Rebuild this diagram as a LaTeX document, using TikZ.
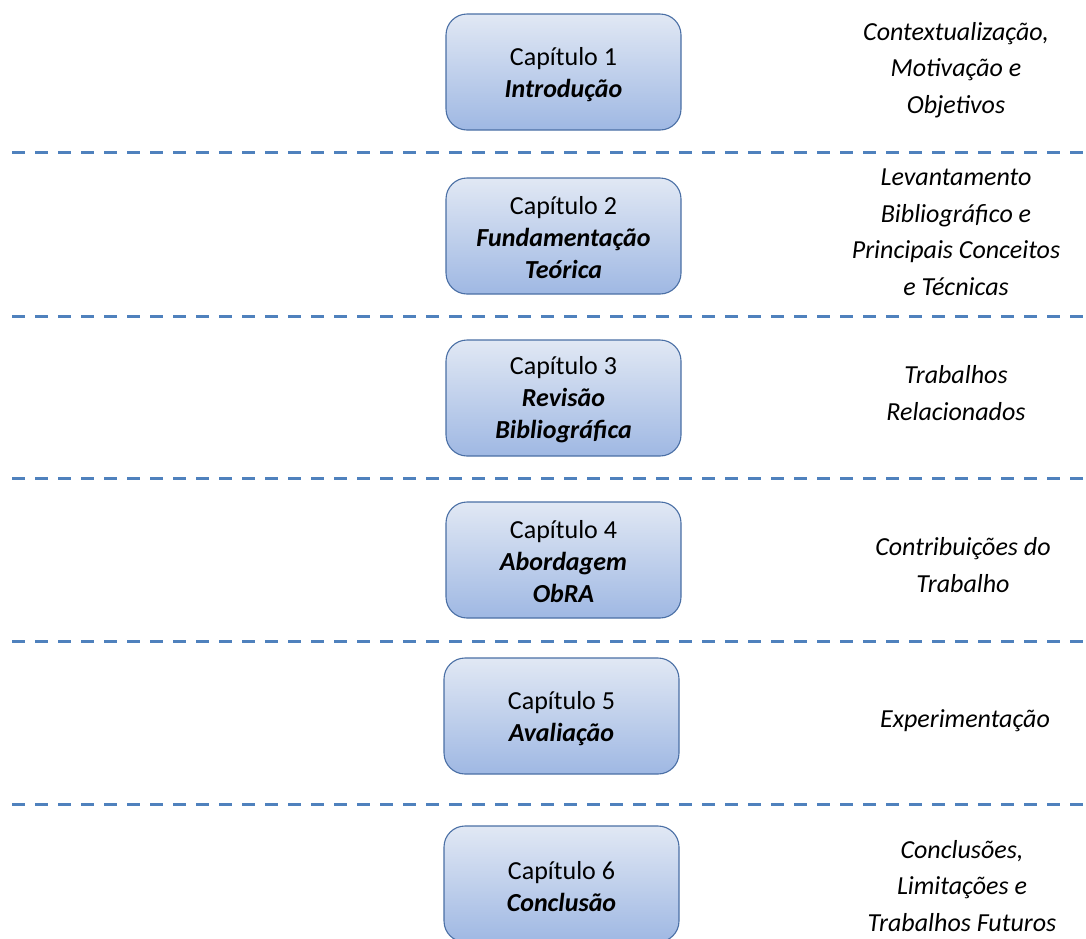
\documentclass[tikz,border=0pt]{standalone}
\usepackage{fontspec}
\setmainfont{Carlito}
\begin{document}
\begin{tikzpicture}[x=1pt,y=-1pt,
  chapbox/.style={draw=boxline, line width=1.1pt, rounded corners=21pt,
    top color=boxtop, bottom color=boxbottom, minimum width=235pt,
    minimum height=116pt, inner sep=0pt},
  chaptext/.style={align=center, inner sep=0pt, font=\fontsize{26}{32}\selectfont},
  note/.style={align=center, inner sep=0pt, font=\fontsize{26}{36.5}\selectfont\itshape},
  sep/.style={draw=sepblue, line width=3pt, dash pattern=on 13pt off 10pt}]
\definecolor{boxline}{HTML}{4A6FA5}
\definecolor{boxtop}{HTML}{E1E8F4}
\definecolor{boxbottom}{HTML}{9FB8E3}
\definecolor{sepblue}{HTML}{4F81BD}
\useasboundingbox (0,0) rectangle (1086,938);
\clip (0,0) rectangle (1086,938);

% chapter boxes
\node[chapbox] (c1) at (563.5,72) {};
\node[chapbox] (c2) at (563.5,236) {};
\node[chapbox] (c3) at (563.5,398) {};
\node[chapbox] (c4) at (563.5,560) {};
\node[chapbox] (c5) at (561.5,716) {};
\node[chapbox] (c6) at (561.5,884) {};

% chapter titles, set a little below the box centres
\node[chaptext] (t1) at ([yshift=-3pt]c1.center) {Capítulo 1\\\textbf{\textit{Introdução}}};
\node[chaptext] (t2) at ([yshift=-2pt]c2.center) {Capítulo 2\\\textbf{\textit{Fundamentação}}\\\textbf{\textit{Teórica}}};
\node[chaptext] (t3) at ([yshift=-2pt]c3.center) {Capítulo 3\\\textbf{\textit{Revisão}}\\\textbf{\textit{Bibliográfica}}};
\node[chaptext] (t4) at ([yshift=-2pt]c4.center) {Capítulo 4\\\textbf{\textit{Abordagem}}\\\textbf{\textit{ObRA}}};
\node[chaptext] (t5) at ([yshift=-3pt]c5.center) {Capítulo 5\\\textbf{\textit{Avaliação}}};
\node[chaptext] (t6) at ([yshift=-3pt]c6.center) {Capítulo 6\\\textbf{\textit{Conclusão}}};

% descriptions
\node[note] (d1) at (956,70) {Contextualização,\\Motivação e\\Objetivos};
\node[note] (d2) at (956,232) {Levantamento\\Bibliográfico e\\Principais Conceitos\\e Técnicas};
\node[note] (d3) at (956,393) {Trabalhos\\Relacionados};
\node[note] (d4) at (963,565) {Contribuições do\\Trabalho};
\node[note] (d5) at (965,721) {Experimentação};
\node[note] (d6) at (962,886) {Conclusões,\\Limitações e\\Trabalhos Futuros};

% separators
\coordinate (s1a) at (12,152); \coordinate (s1b) at (1086,152);
\coordinate (s2a) at (12,316); \coordinate (s2b) at (1086,316);
\coordinate (s3a) at (12,478); \coordinate (s3b) at (1086,478);
\coordinate (s4a) at (12,641); \coordinate (s4b) at (1086,641);
\coordinate (s5a) at (12,804); \coordinate (s5b) at (1086,804);
\foreach \s in {1,...,5} \draw[sep] (s\s a) -- (s\s b);
\end{tikzpicture}
\end{document}
